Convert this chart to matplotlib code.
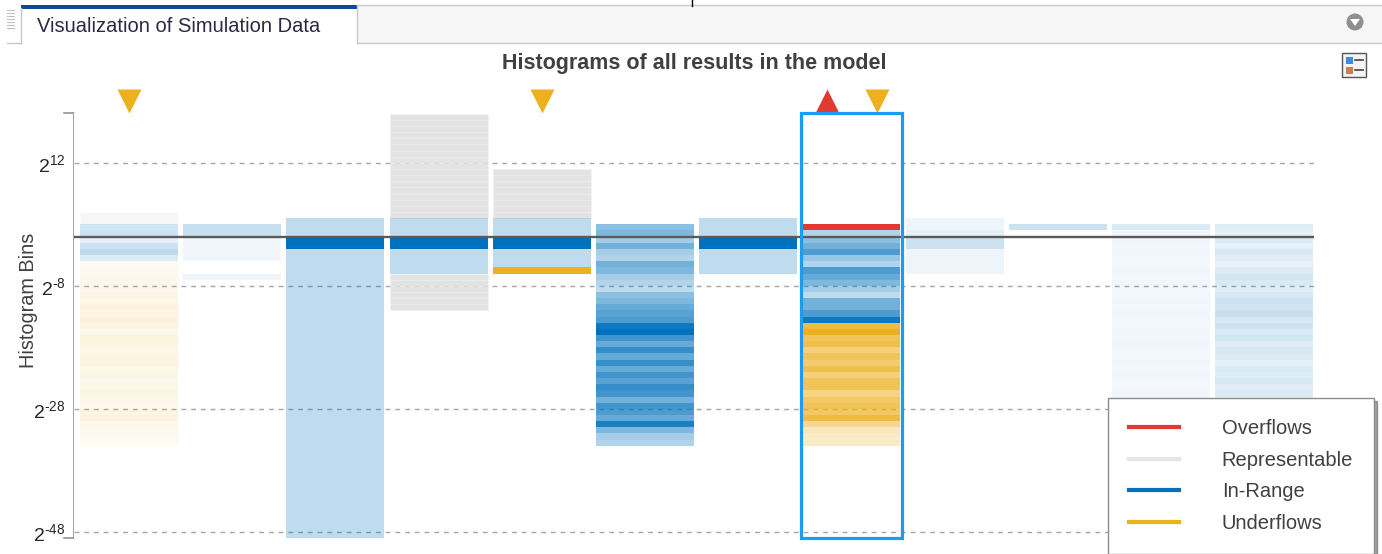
import matplotlib
matplotlib.use('Agg')
import matplotlib.pyplot as plt
from matplotlib.colors import to_rgba
from matplotlib.lines import Line2D
from matplotlib.patches import Rectangle, Circle, Polygon
import matplotlib.transforms as mtransforms

plt.rcParams['font.family'] = ['Liberation Sans', 'DejaVu Sans']
plt.rcParams['mathtext.fontset'] = 'custom'
plt.rcParams['mathtext.rm'] = 'Liberation Sans'
plt.rcParams['mathtext.it'] = 'Liberation Sans:italic'
plt.rcParams['mathtext.bf'] = 'Liberation Sans:bold'

W, H = 1382, 554

# ---- data -------------------------------------------------------------
n_results = 12
tick_exps = [12, -8, -28, -48]
tick_labels = [r'$\mathregular{2^{12}}$', r'$\mathregular{2^{\text{-}8}}$',
               r'$\mathregular{2^{\text{-}28}}$', r'$\mathregular{2^{\text{-}48}}$']

# representable (grey) ranges: column, low exponent, high exponent, shade
repr_col = [0, 3, 3, 4]
repr_lo = [2, 3, -12, 3]
repr_hi = [4, 20, -6, 11]
repr_level = [0.3, 1.0, 1.0, 1.0]

# in-range bins: upper exponent of first bin, shade of each bin going down
inrange_top = [2, 2, 3, 3, 3, 2, 3, 1, 3, 2, 2, 2]
inrange_level = [
  [.18, .2, .1, .2, .26, .14],
  [.22, .22, .06, .06, .06, .06, 0, 0, .07],
  [.25, .25, .25, 1, 1] + [.25] * 47,
  [.25, .25, .25, 1, 1, .25, .25, .25, .25],
  [.25, .25, .25, 1, 1, .25, .25, .25],
  [.45, .5, .35, .55, .35, .3, .55, .5, .35, .3, .25, .45, .5, .6, .65, .7, .95, 1.0,
   .75, .6, .8, .6, .8, .6, .75, .65, .8, .75, .55, .75, .7, .6, .9, .5, .35, .3],
  [.25, .25, .25, 1, 1, .25, .25, .25, .25],
  [.3, .45, .55, .7, .4, .3, .7, .6, .5, .35, .25, .55, .55, .7, .95],
  [.07, .07, .1, .2, .2, .07, .07, .07, .07],
  [.2],
  [.15, .06, .06, .05, .06, .05, .05, .06, .05, .06, .05, .05, .06, .05, .06, .05, .05, .06,
   .05, .06, .05, .05, .06, .05, .06, .05, .05, .06, .05, .06, .05, .05, .06, .05, .05, .05],
  [.12, .1, .14, .1, .16, .12, .1, .14, .18, .15, .12, .16, .2, .18, .22, .16, .2, .14,
   .18, .12, .16, .14, .1, .14, .12, .16, .12, .14, .1, .12, .14, .1, .12, .1, .08, .08],
]

# underflow bins
under_col = [0, 4, 7]
under_top = [-4, -5, -14]
under_level = [
  [.06, .07, .08, .1, .08, .12, .1, .14, .12, .16, .12, .1, .14, .12, .1,
   .12, .14, .1, .12, .08, .1, .12, .1, .08, .12, .14, .1, .08, .06, .05],
  [1.0],
  [.85, 1.0, .75, .8, .6, .75, .65, .8, .6, .75, .75, .55, .7, .75, .7, .85, .5, .3, .25, .25],
]

# overflow bins
over_col = [7]
over_exp = [1]

selected_col = 7

BLUE = '#0072BD'
ORANGE = '#EDB120'
RED = '#E03B2E'
GREY = '#e3e3e3'
SEL = '#1C9BF2'

# ---- figure -----------------------------------------------------------
fig = plt.figure(figsize=(W / 100, H / 100), dpi=100)

# pixel overlay for the window chrome
ui = fig.add_axes([0, 0, 1, 1])
ui.set_xlim(0, W)
ui.set_ylim(H, 0)
ui.set_axis_off()

ax = fig.add_axes([74 / W, (H - 538) / H, 1240 / W, 425 / H])
ax.set_xlim(-0.533, 11.483)
ax.set_ylim(-49, 20.1)

def add_bins(col, top, levels, base, edge=None):
  xs, bots, cols = [], [], []
  for k, a in enumerate(levels):
    if a > 0:
      xs.append(col)
      bots.append(top - 1 - k)
      cols.append(to_rgba(base, a))
  ax.bar(xs, 1, bottom=bots, width=0.95, color=cols,
         edgecolor=edge if edge else 'none', linewidth=0.4, zorder=2)

for c, lo, hi, a in zip(repr_col, repr_lo, repr_hi, repr_level):
  add_bins(c, hi, [a] * (hi - lo), GREY, edge=(1, 1, 1, 0.15))
for c in range(n_results):
  add_bins(c, inrange_top[c], inrange_level[c], BLUE)
for c, t, lv in zip(under_col, under_top, under_level):
  add_bins(c, t, lv, ORANGE)
for c, e in zip(over_col, over_exp):
  add_bins(c, e + 1, [1.0], RED)

for e in tick_exps:
  ax.axhline(e, color='#a6a6a6', lw=1.0, ls=(0, (3.5, 3.5)), zorder=1)
ax.axhline(0, color='#5a5a5a', lw=1.7, zorder=4)

# flags above the columns
for c in under_col:
  dx = 0.25 if c in over_col else 0
  ax.plot(c + dx, 22.05, marker='v', ms=17, color=ORANGE, mec='none', clip_on=False)
for c in over_col:
  ax.plot(c - 0.24, 22.05, marker='^', ms=17, color=RED, mec='none', clip_on=False)

trans = mtransforms.blended_transform_factory(ax.transData, ax.transAxes)
ax.add_patch(Rectangle((selected_col - 0.49, 0.0), 0.98, 1.0, transform=trans,
                       fill=False, edgecolor=SEL, lw=2.3, clip_on=False, zorder=5))

ax.set_xticks([])
ax.set_yticks(tick_exps)
ax.set_yticklabels(tick_labels, fontsize=14, color='#262626')
ax.tick_params(axis='y', length=0, pad=6)
for s in ax.spines.values():
  s.set_visible(False)

# axis bracket
ui.plot([64, 74, 74, 64], [113, 113, 538, 538], color='#8a8a8a', lw=1.1)

fig.text(28 / W, 1 - 300 / H, 'Histogram Bins', rotation=90, ha='center', va='center',
         fontsize=14.3, color='#404040')
fig.text(694 / W, 1 - 63 / H, 'Histograms of all results in the model', ha='center',
         va='center', fontsize=15.5, fontweight='bold', color='#404040')

handles = [Line2D([], [], color=RED, lw=3),
           Line2D([], [], color='#e6e6e6', lw=3),
           Line2D([], [], color=BLUE, lw=3),
           Line2D([], [], color=ORANGE, lw=3)]
leg = fig.legend(handles, ['Overflows', 'Representable', 'In-Range', 'Underflows'],
                 loc='upper left', bbox_to_anchor=(1108 / W, 1 - 398 / H), borderaxespad=0,
                 fontsize=14.5, handlelength=2.5, handletextpad=2.1, borderpad=1.05,
                 labelspacing=0.62, fancybox=False, shadow=True, framealpha=1,
                 edgecolor='#8c8c8c', labelcolor='#404040')
leg.get_frame().set_linewidth(1.0)

# ---- window chrome ----------------------------------------------------
ui.add_patch(Rectangle((357, 5), W - 357, 38, facecolor='#f6f6f6', edgecolor='none'))
ui.plot([357, W], [5, 5], color='#c8c8c8', lw=1)
ui.plot([357, W], [43, 43], color='#c8c8c8', lw=1)
ui.plot([7, 21], [43, 43], color='#c8c8c8', lw=1)
ui.plot([21, 21], [8, 43], color='#c8c8c8', lw=1)
ui.plot([357, 357], [5, 43], color='#c8c8c8', lw=1)
ui.add_patch(Rectangle((21, 5), 336, 4, facecolor='#0a4a9a', edgecolor='none'))
for gy in range(10, 30, 3):
  ui.plot([7, 14], [gy, gy], color='#c0c0c0', lw=0.8)
ui.text(37, 27, 'Visualization of Simulation Data', fontsize=14.5, color='#2a2a44',
        ha='left', va='center')
ui.add_patch(Circle((1355, 22), 8.5, facecolor='#8f8f8f', edgecolor='none'))
ui.add_patch(Polygon([[1350, 19], [1360, 19], [1355, 26]], closed=True,
                     facecolor='white', edgecolor='none'))
ui.plot([692, 692], [0, 6], color='black', lw=1)

# legend toggle icon
ui.add_patch(Rectangle((1342, 53), 24, 24, facecolor='#f4f4f4', edgecolor='#555555', lw=1))
ui.add_patch(Rectangle((1346, 57), 7, 7, facecolor='#3d8fd1', edgecolor='none'))
ui.add_patch(Rectangle((1346, 67), 7, 7, facecolor='#d97a4e', edgecolor='none'))
ui.plot([1355, 1363], [60, 60], color='#444444', lw=1.2)
ui.plot([1355, 1363], [70, 70], color='#444444', lw=1.2)

fig.savefig('out.png', dpi=100)
